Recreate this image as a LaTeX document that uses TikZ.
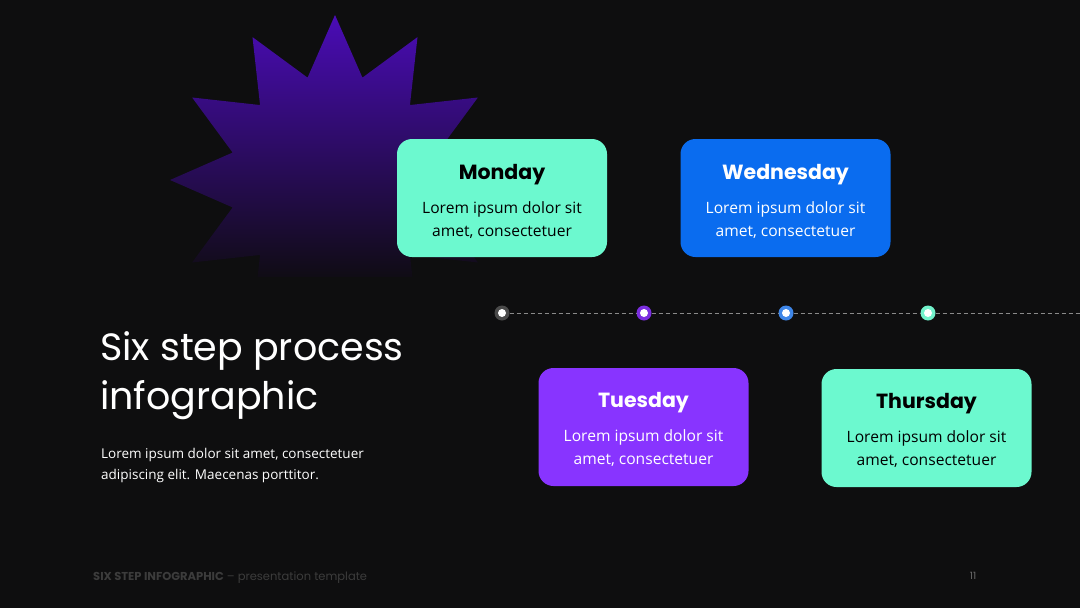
\documentclass[tikz,border=0pt]{standalone}
\usepackage{fontspec}
\setmainfont{Open Sans}
\newfontfamily\headfont{Poppins}
\definecolor{bg}{HTML}{0E0E0F}
\definecolor{mint}{HTML}{6CF9CF}
\definecolor{bluebox}{HTML}{0A6CEF}
\definecolor{purplebox}{HTML}{8834FF}
\definecolor{starTop}{HTML}{4A0CB6}
\definecolor{starMid}{HTML}{270B6A}
\definecolor{starBot}{HTML}{100C15}
\definecolor{dotgray}{HTML}{4A4A4A}
\definecolor{dotpurple}{HTML}{7B2EE0}
\definecolor{dotblue}{HTML}{3E86E8}
\definecolor{dotmint}{HTML}{72F2CB}
\definecolor{linegray}{HTML}{8A8A8A}
\definecolor{footgray}{HTML}{3C3C3C}
\definecolor{pagegray}{HTML}{6A6A6A}
\begin{document}
\begin{tikzpicture}[x=1pt,y=-1pt,
  daybox/.style={rounded corners=15pt, minimum width=210pt, minimum height=118pt, inner sep=0pt},
  daytitle/.style={font=\headfont\bfseries\fontsize{20.5}{22}\selectfont, inner sep=0pt},
  daybody/.style={font=\fontsize{15.6}{23}\selectfont, align=center, inner sep=0pt},
  ring/.style={circle, minimum size=15pt, inner sep=0pt},
  hole/.style={circle, fill=white, minimum size=8pt, inner sep=0pt}]
\fill[bg] (0,0) rectangle (1080,608);
\useasboundingbox (0,0) rectangle (1080,608);
% star burst
\begin{scope}
\clip plot[samples at={0,15,...,345}, variable=\t]
  ({335+(135.5+29.5*cos(12*\t))*cos(\t)}, {180+(135.5+29.5*cos(12*\t))*sin(\t)}) -- cycle;
\shade[top color=starTop, middle color=starMid, bottom color=starBot] (150,15) rectangle (510,276);
\end{scope}
% title
\node[anchor=west, text=white, font=\headfont\fontsize{38}{49}\selectfont, align=left, inner sep=0pt] (title) at (100,376) {Six step process\\infographic};
\node[anchor=north west, text=white, font=\fontsize{13.5}{21}\selectfont, align=left, inner sep=0pt] (desc) at (101,448) {Lorem ipsum dolor sit amet, consectetuer\\adipiscing elit. Maecenas porttitor.};
% timeline
\coordinate (lineend) at (1080,313);
\node[ring, fill=dotgray] (d1) at (502,313) {};
\node[ring, fill=dotpurple] (d2) at (644,313) {};
\node[ring, fill=dotblue] (d3) at (786,313) {};
\node[ring, fill=dotmint] (d4) at (928,313) {};
\draw[linegray, line width=1pt, dash pattern=on 4pt off 3pt] (d1) -- (d2);
\draw[linegray, line width=1pt, dash pattern=on 4pt off 3pt] (d2) -- (d3);
\draw[linegray, line width=1pt, dash pattern=on 4pt off 3pt] (d3) -- (d4);
\draw[linegray, line width=1pt, dash pattern=on 4pt off 3pt] (d4) -- (lineend);
\foreach \d in {d1,d2,d3,d4} \node[hole] at (\d) {};
% boxes
\node[daybox, fill=mint] (mon) at (502,198) {};
\node[daytitle, text=black] (monT) at (502,174.5) {Monday};
\node[daybody, text=black] (monB) at (502,220) {Lorem ipsum dolor sit\\amet, consectetuer};
\node[daybox, fill=bluebox] (wed) at (785.5,198) {};
\node[daytitle, text=white] (wedT) at (785.5,174.5) {Wednesday};
\node[daybody, text=white] (wedB) at (785.5,220) {Lorem ipsum dolor sit\\amet, consectetuer};
\node[daybox, fill=purplebox] (tue) at (643.5,427) {};
\node[daytitle, text=white] (tueT) at (643.5,402.5) {Tuesday};
\node[daybody, text=white] (tueB) at (643.5,448) {Lorem ipsum dolor sit\\amet, consectetuer};
\node[daybox, fill=mint] (thu) at (926.5,428) {};
\node[daytitle, text=black] (thuT) at (926.5,403.5) {Thursday};
\node[daybody, text=black] (thuB) at (926.5,449) {Lorem ipsum dolor sit\\amet, consectetuer};
% footer
\node[anchor=west, text=footgray, font=\headfont\fontsize{11.5}{13}\selectfont, inner sep=0pt] (foot) at (93,577.5) {\textbf{SIX STEP INFOGRAPHIC} – presentation template};
\node[text=pagegray, font=\headfont\fontsize{10}{11}\selectfont, inner sep=0pt] (page) at (973,575.5) {11};
\end{tikzpicture}
\end{document}
